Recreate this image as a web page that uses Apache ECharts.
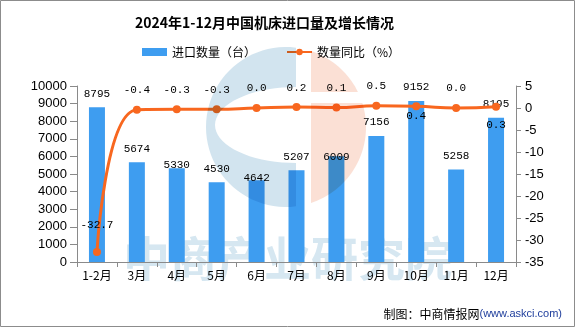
<!DOCTYPE html>
<html><head><meta charset="utf-8">
<script src="https://cdn.jsdelivr.net/npm/echarts@6/dist/echarts.min.js"></script>
<style>html,body{margin:0;padding:0;background:#fff}#c{width:575px;height:327px}</style>
</head><body><div id="c"></div>
<script>
// ---- data ----
const categories = ['1-2月','3月','4月','5月','6月','7月','8月','9月','10月','11月','12月'];
const importQty = [8795, 5674, 5330, 4530, 4642, 5207, 6009, 7156, 9152, 5258, 8195];
const yoyPct = [-32.7, -0.4, -0.3, -0.3, 0.0, 0.2, 0.1, 0.5, 0.4, 0.0, 0.3];
const leftTicks = [0, 1000, 2000, 3000, 4000, 5000, 6000, 7000, 8000, 9000, 10000];
const rightTicks = [-35, -30, -25, -20, -15, -10, -5, 0, 5];
const seriesNames = ['进口数量（台）', '数量同比（%）'];
const titleText = '2024年1-12月中国机床进口量及增长情况';
const sourceText = '制图：中商情报网';
const sourceUrl = '(www.askci.com)';
const watermarkText = '中商产业研究院';

// ---- label placement tweaks (style only) ----
const barLabelDistance = {2: -2, 4: -3, 6: -6};
const lineLabelTweak = {0: {position: 'top', distance: 17}, 8: {position: 'bottom', distance: 0}, 10: {position: 'bottom', distance: 9}};

const BAR = '#3E9DF0', LINE = '#F8671F', AXIS = '#8a8a8a';
const numFont = "'Liberation Mono', 'DejaVu Sans Mono', monospace";
const cjk = "'Noto Sans CJK SC', sans-serif";

// ---- watermark logo polygons (decoration) ----
const cx = 286, cy = 127, R = 80;
const blueC = [];
const tA = Math.acos(10 / R);
for (let i = 0; i <= 48; i++) { const t = -tA - (2 * Math.PI - 2 * tA) * i / 48; blueC.push([cx + R * Math.cos(t), cy + R * Math.sin(t)]); }
for (let i = 0; i <= 36; i++) { const p = Math.PI / 2 + Math.PI * i / 36; blueC.push([296 + 81 * Math.cos(p), 125 + 38 * Math.sin(p)]); }
const orUp = [], orLo = [];
const o0 = -Math.acos(25 / R), o1 = Math.asin((92 - cy) / R);
for (let i = 0; i <= 20; i++) { const t = o0 + (o1 - o0) * i / 20; orUp.push([cx + R * Math.cos(t), cy + R * Math.sin(t)]); }
orUp.push([311, 92]);
const o2 = Math.asin((103 - cy) / R), o3 = Math.acos(25 / R);
orLo.push([311, 103]);
for (let i = 0; i <= 36; i++) { const t = o2 + (o3 - o2) * i / 36; orLo.push([cx + R * Math.cos(t), cy + R * Math.sin(t)]); }

const barData = importQty.map((v, i) => barLabelDistance[i] !== undefined ? {value: v, label: {distance: barLabelDistance[i]}} : v);
const lineData = yoyPct.map((v, i) => lineLabelTweak[i] ? {value: v, label: lineLabelTweak[i]} : v);

const chart = echarts.init(document.getElementById('c'), null, {renderer: 'canvas'});
chart.setOption({
  animation: false,
  backgroundColor: '#fff',
  title: [{
    text: titleText, left: 130, top: 11,
    textStyle: {fontFamily: cjk, fontSize: 14, fontWeight: 'bold', color: '#000'}
  }, {
    text: '{a|' + sourceText + '}{b|' + sourceUrl + '}', right: 8, bottom: 2,
    textStyle: {fontWeight: 'normal', rich: {
      a: {fontFamily: cjk, fontSize: 12, fontWeight: 'normal', color: '#000'},
      b: {fontFamily: "'Liberation Sans', sans-serif", fontSize: 11, fontWeight: 'normal', color: '#1f3e9c'}
    }}
  }],
  legend: {
    left: 137, top: 41, itemWidth: 25, itemHeight: 8, itemGap: 30,
    textStyle: {fontFamily: cjk, fontSize: 12, color: '#000'},
    data: [{name: seriesNames[0], icon: 'rect'}, {name: seriesNames[1]}]
  },
  grid: {left: 77, right: 59, top: 86, bottom: 65},
  xAxis: {
    type: 'category', data: categories, boundaryGap: true,
    axisLine: {lineStyle: {color: AXIS, width: 1}},
    axisTick: {show: true, length: 5, lineStyle: {color: AXIS}},
    axisLabel: {fontFamily: cjk, fontSize: 12, color: '#000', margin: 7}
  },
  yAxis: [{
    type: 'value', min: leftTicks[0], max: leftTicks[leftTicks.length - 1], interval: leftTicks[1] - leftTicks[0],
    axisLine: {show: true, lineStyle: {color: AXIS}},
    axisTick: {show: true, length: 7, lineStyle: {color: AXIS}},
    axisLabel: {fontFamily: "'Liberation Sans', Arial, sans-serif", fontSize: 13, color: '#000', margin: 10,
      formatter: v => String(v)},
    splitLine: {show: false}
  }, {
    type: 'value', min: rightTicks[0], max: rightTicks[rightTicks.length - 1], interval: rightTicks[1] - rightTicks[0],
    position: 'right',
    axisLine: {show: true, lineStyle: {color: AXIS}},
    axisTick: {show: true, length: 5, lineStyle: {color: AXIS}},
    axisLabel: {fontFamily: "'Liberation Sans', Arial, sans-serif", fontSize: 13, color: '#000', margin: 9,
      formatter: v => String(v)},
    splitLine: {show: false}
  }],
  series: [{
    name: seriesNames[0], type: 'bar', yAxisIndex: 0, data: barData, barWidth: 16,
    itemStyle: {color: BAR},
    label: {show: true, position: 'top', distance: 8, fontFamily: numFont, fontSize: 11, color: '#000'},
    z: 2
  }, {
    name: seriesNames[1], type: 'line', yAxisIndex: 1, data: lineData, smooth: true,
    symbol: 'circle', symbolSize: 8,
    lineStyle: {color: LINE, width: 3}, itemStyle: {color: LINE},
    label: {show: true, position: 'top', distance: 10, fontFamily: numFont, fontSize: 11, color: '#000',
      formatter: p => Number(p.value).toFixed(1)},
    z: 3
  }],
  graphic: [
    {type: 'text', z: -10, left: 'center', top: 235,
      style: {text: watermarkText, fontFamily: cjk, fontSize: 47, fontWeight: 'bold', fill: '#d6e7f1'}},
    {type: 'polygon', z: 100, shape: {points: blueC}, style: {fill: '#d2e4ef', blend: 'multiply'}, silent: true},
    {type: 'polygon', z: 100, shape: {points: orUp}, style: {fill: '#fbe0d5', blend: 'multiply'}, silent: true},
    {type: 'polygon', z: 100, shape: {points: orLo}, style: {fill: '#fbe0d5', blend: 'multiply'}, silent: true},
    {type: 'rect', z: 200, shape: {x: 0.5, y: 0.5, width: 574, height: 326}, style: {fill: 'none', stroke: '#8c8c8c', lineWidth: 1}, silent: true}
  ]
});
</script>
</body></html>
